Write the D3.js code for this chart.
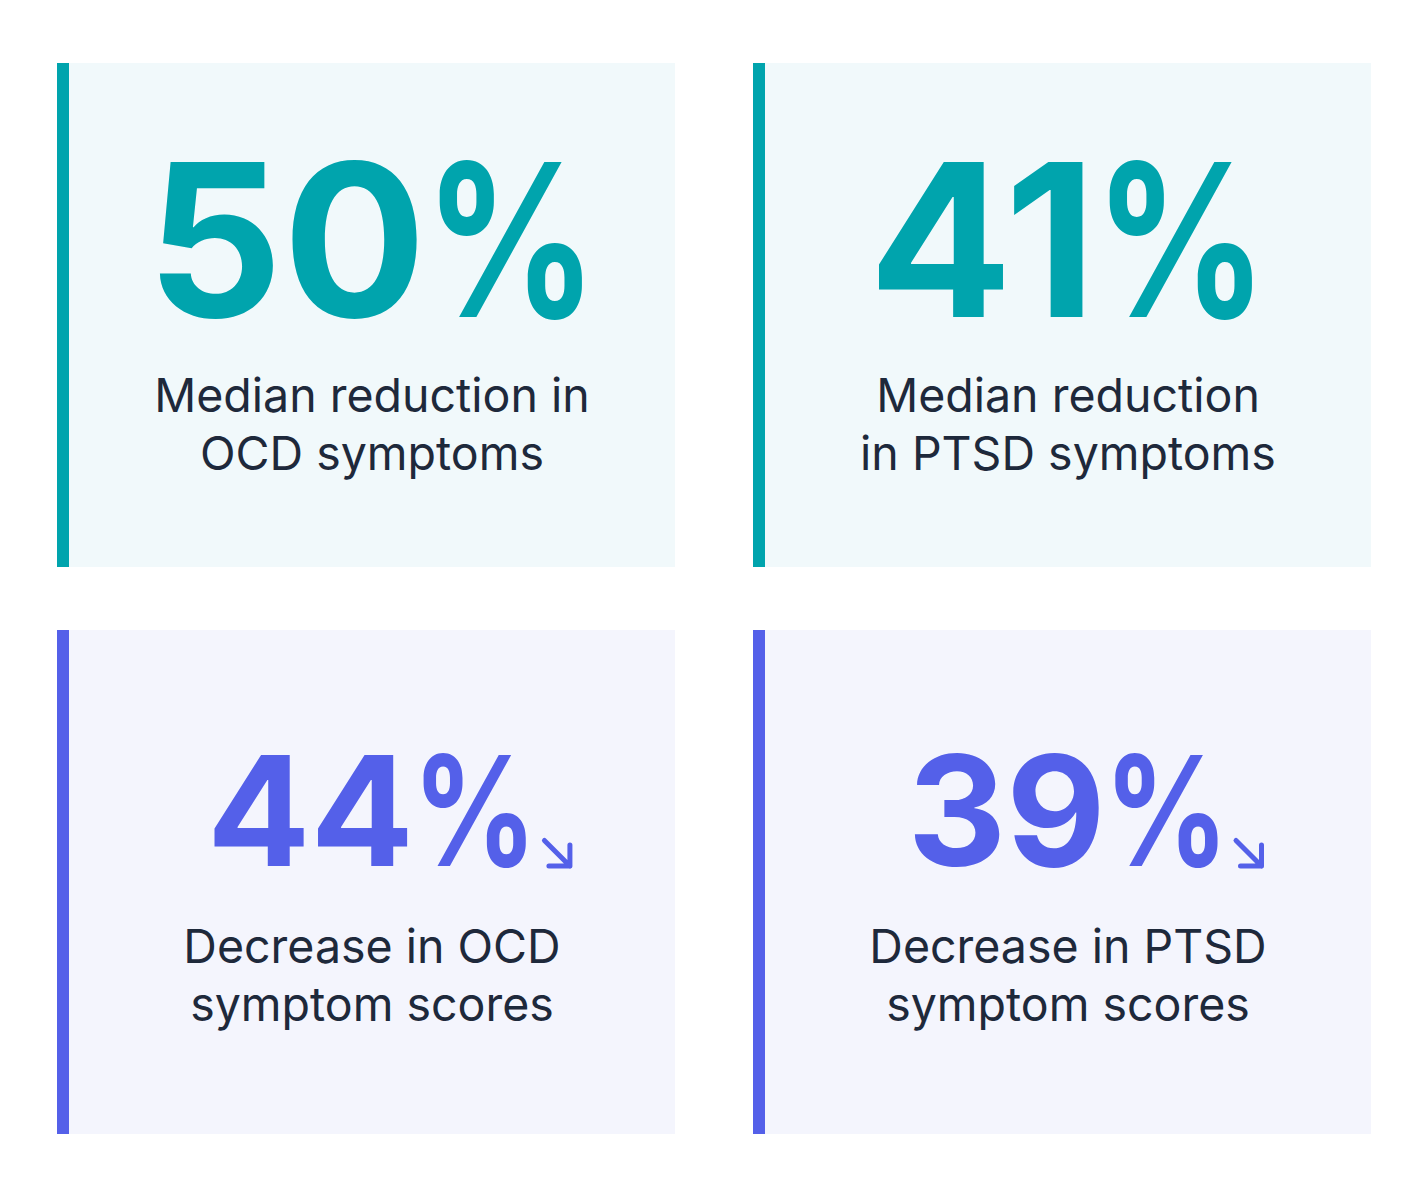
<!DOCTYPE html>
<html>
<head>
<meta charset="utf-8">
<script src="https://cdn.jsdelivr.net/npm/d3@7"></script>
<style>
  html, body { margin: 0; padding: 0; background: #ffffff; }
  svg { display: block; }
</style>
</head>
<body>
<svg id="stats"></svg>
<script>
// stat cards data
const values = ["50", "41", "44", "39"];
const unit = "%";
const labelLines = [
  ["Median reduction in", "OCD symptoms"],
  ["Median reduction", "in PTSD symptoms"],
  ["Decrease in OCD", "symptom scores"],
  ["Decrease in PTSD", "symptom scores"]
];
const groups = ["median", "median", "decrease", "decrease"];
const showArrow = [false, false, true, true];

const width = 1428;
const height = 1200;

const accent = d3.scaleOrdinal().domain(["median", "decrease"]).range(["#00a4ad", "#5460e9"]);
const fillBg = d3.scaleOrdinal().domain(["median", "decrease"]).range(["#f1f9fb", "#f4f5fd"]);

// 2x2 grid
const x = d3.scaleBand().domain([0, 1]).range([57, 1371]).paddingInner(78 / 696);
const y = d3.scaleBand().domain([0, 1]).range([63, 1134]).paddingInner(63 / 567);

const svg = d3.select("#stats")
  .attr("width", width)
  .attr("height", height);

const cards = svg.selectAll(".card")
  .data(values.map((v, i) => ({ value: v, lines: labelLines[i], group: groups[i], arrow: showArrow[i], col: i % 2, row: Math.floor(i / 2) })))
  .enter()
  .append("g")
  .attr("class", "card")
  .attr("transform", d => `translate(${x(d.col)},${y(d.row)})`);

const barW = 12;
const cw = x.bandwidth();
const ch = y.bandwidth();
const cx = barW + (cw - barW) / 2;
const pctScale = 0.8; // the % sign is narrower than Inter's

cards.append("rect")
  .attr("width", cw)
  .attr("height", ch)
  .style("fill", d => fillBg(d.group));

cards.append("rect")
  .attr("width", barW)
  .attr("height", ch)
  .style("fill", d => accent(d.group));

// big number + % sign (+ arrow)
cards.each(function (d) {
  const size = d.row === 0 ? 213 : 153;
  const base = d.row === 0 ? 254 : 236;
  const k = size / 213;
  const g = d3.select(this).append("g").attr("class", "num");

  const num = g.append("text")
    .attr("x", 0)
    .attr("y", base)
    .style("font-family", "Inter, 'Noto Sans', sans-serif")
    .style("font-weight", 700)
    .style("font-size", size + "px")
    .style("fill", accent(d.group))
    .text(d.value);
  const numW = num.node().getComputedTextLength();

  const pct = g.append("text")
    .attr("x", 0)
    .attr("y", 0)
    .style("font-family", "Inter, 'Noto Sans', sans-serif")
    .style("font-weight", 700)
    .style("font-size", size + "px")
    .style("fill", accent(d.group))
    .text(unit);
  const pctW = pct.node().getComputedTextLength() * pctScale;
  const pctX = numW - 2 * k;
  pct.attr("transform", `translate(${pctX},${base}) scale(${pctScale},1)`);

  const total = pctX + pctW;
  g.attr("transform", `translate(${cx - total / 2},0)`);

  if (d.arrow) {
    g.append("path")
      .attr("transform", `translate(${total + 5},${base - 28})`)
      .attr("d", "M2.5,2.5 L28,28 M28,7 L28,28 L7,28")
      .style("fill", "none")
      .style("stroke", accent(d.group))
      .style("stroke-width", 5)
      .style("stroke-linecap", "round")
      .style("stroke-linejoin", "round");
  }
});

// label lines
cards.append("text")
  .attr("class", "label")
  .attr("x", cx)
  .attr("y", d => d.row === 0 ? 349 : 333)
  .style("font-family", "Inter, 'Noto Sans', sans-serif")
  .style("font-weight", 400)
  .style("font-size", "46.5px")
  .style("text-anchor", "middle")
  .style("fill", "#1e293b")
  .selectAll("tspan")
  .data(d => d.lines)
  .enter()
  .append("tspan")
  .attr("x", cx)
  .attr("dy", (d, i) => i === 0 ? 0 : 58)
  .text(d => d);
</script>
</body>
</html>
